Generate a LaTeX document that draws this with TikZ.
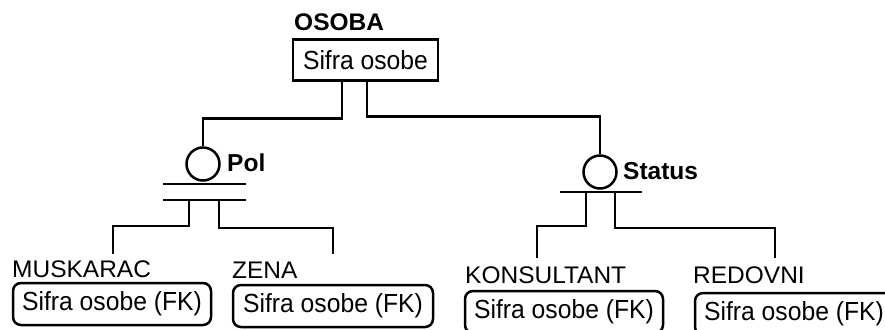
\documentclass[tikz,border=0pt]{standalone}
\usepackage{fontspec}
\setmainfont{Liberation Sans}
\newcommand{\lx}[1]{\scalebox{1.02}[1]{#1}}
\newcommand{\bx}[1]{\scalebox{1}[1.06]{#1}}
\tikzset{
  ln/.style={line width=2.5pt, line join=miter},
  txt/.style={font=\fontsize{24}{28}\selectfont, inner sep=0pt},
  ltxt/.style={font=\fontsize{24}{28}\selectfont\bfseries, inner sep=0pt},
  btxt/.style={font=\fontsize{24.5}{28}\selectfont\bfseries, inner sep=0pt},
  pkbox/.style={draw, line width=2.3pt, minimum width=145pt, minimum height=41pt, inner sep=0pt, font=\fontsize{24.7}{28}\selectfont},
  fkbox/.style={draw, line width=2.5pt, rounded corners=8pt, minimum width=198pt, minimum height=42pt, inner sep=0pt, font=\fontsize{24.7}{28}\selectfont},
  cat/.style={draw, circle, line width=2.5pt, minimum size=33pt, inner sep=0pt},
}
\begin{document}
\begin{tikzpicture}[x=1pt, y=-1pt]
\useasboundingbox (0,0) rectangle (885,329);
\clip (0,0) rectangle (885,329);

% parent entity
\node[ltxt, anchor=base west] (osobaLbl) at (294,31) {\lx{OSOBA}};
\node[pkbox] (osoba) at (365.5,60) {\bx{Sifra osobe}};

% category symbols
\node[cat] (pol) at (203,164) {};
\node[btxt, anchor=west] (polLbl) at (227,163) {Pol};
\node[cat] (status) at (600,172) {};
\node[btxt, anchor=west] (statusLbl) at (623,171) {Status};

% subtype entities
\node[txt, anchor=base west] (muskLbl) at (12,277) {\lx{MUSKARAC}};
\node[fkbox] (musk) at (112,304) {\bx{Sifra osobe (FK)}};
\node[txt, anchor=base west] (zenaLbl) at (232,278) {\lx{ZENA}};
\node[fkbox, minimum width=200pt] (zena) at (333,306) {\bx{Sifra osobe (FK)}};
\node[txt, anchor=base west] (konsLbl) at (465,283) {\lx{KONSULTANT}};
\node[fkbox] (kons) at (564,312) {\bx{Sifra osobe (FK)}};
\node[txt, anchor=base west] (redLbl) at (693,283) {\lx{REDOVNI}};
\node[fkbox] (red) at (794,314) {\bx{Sifra osobe (FK)}};

% helper coordinates
\coordinate (xL) at (342,0);
\coordinate (xR) at (367,0);
\coordinate (polA) at (163,184);
\coordinate (polB) at (246,184);
\coordinate (polC) at (163,200);
\coordinate (polD) at (246,200);
\coordinate (stA) at (560,192);
\coordinate (stB) at (642,192);
\coordinate (pL) at (189,200);
\coordinate (pR) at (219,200);
\coordinate (sL) at (586,192);
\coordinate (sR) at (615,192);
\coordinate (muskEnd) at (113,254);
\coordinate (zenaEnd) at (333,254);
\coordinate (konsEnd) at (537,258);
\coordinate (redEnd) at (775,258);

% connectors from parent
\draw[ln] (osoba.south -| xL) -- ++(0,37) -| (pol.north);
\draw[ln] (osoba.south -| xR) -- ++(0,35) -| (status.north);

% bars
\draw[ln] (polA) -- (polB);
\draw[ln] (polC) -- (polD);
\draw[ln] (stA) -- (stB);

% connectors to subtypes
\draw[ln] (pL) -- ++(0,26) -| (muskEnd);
\draw[ln] (pR) -- ++(0,28) -| (zenaEnd);
\draw[ln] (sL) -- ++(0,34) -| (konsEnd);
\draw[ln] (sR) -- ++(0,36) -| (redEnd);
\end{tikzpicture}
\end{document}
